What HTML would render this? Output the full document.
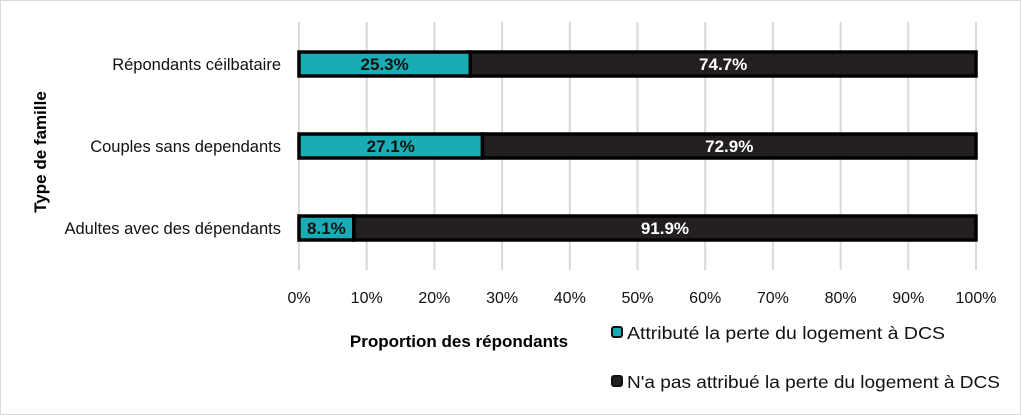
<!DOCTYPE html>
<html><head><meta charset="utf-8"><style>
body{margin:0;background:#fff;}
svg{display:block;font-family:"Liberation Sans",sans-serif;}
</style></head><body>
<svg id="chart" width="1021" height="415">
<rect x="0.5" y="0.5" width="1020" height="414" fill="#fff" stroke="#d9d9d9"/>
<g id="grid"></g><g id="bars"></g><g id="labels"></g>
<text x="46" y="152" transform="rotate(-90 46 152)" text-anchor="middle" font-size="17" font-weight="bold" fill="#000">Type de famille</text>
<text x="459" y="347" text-anchor="middle" font-size="17" font-weight="bold" fill="#000">Proportion des répondants</text>
<g>
<rect x="612" y="327" width="10" height="10" rx="2" fill="#1aacb5" stroke="#111" stroke-width="2"/>
<text x="627" y="339" font-size="17.5" fill="#111" textLength="318" lengthAdjust="spacingAndGlyphs">Attributé la perte du logement à DCS</text></g>
<g>
<rect x="612" y="376" width="10" height="10" rx="2" fill="#231f20" stroke="#111" stroke-width="2"/>
<text x="627" y="388" font-size="17.5" fill="#111" textLength="373" lengthAdjust="spacingAndGlyphs">N'a pas attribué la perte du logement à DCS</text></g>
</svg>
<script>
const categories=["Répondants céilbataire","Couples sans dependants","Adultes avec des dépendants"];
const attributed=[25.3,27.1,8.1];
const notAttributed=[74.7,72.9,91.9];
const ticks=[0,10,20,30,40,50,60,70,80,90,100];
const NS="http://www.w3.org/2000/svg";
const x=v=>299+v*6.77;
const yc=i=>64+i*82;
function mk(tag,a,p){const e=document.createElementNS(NS,tag);for(const k in a)e.setAttribute(k,a[k]);p.appendChild(e);return e;}
const g=document.getElementById('grid'),b=document.getElementById('bars'),l=document.getElementById('labels');
ticks.forEach(t=>{
 const ln=mk('line',{x1:x(t),x2:x(t),y1:22,y2:270,stroke:'#d9d9d9','stroke-width':2},g);
 
 
 const tx=mk('text',{x:x(t),y:303,'text-anchor':'middle','font-size':16,fill:'#111'},l);
 tx.textContent=t+'%';
 
 
});
categories.forEach((c,i)=>{
 const cy=yc(i);
 const ct=mk('text',{x:281,y:cy+6,'text-anchor':'end','font-size':16.5,fill:'#111'},l);
 ct.textContent=c;
 
 
 const r1=mk('rect',{x:x(0),y:cy-12,width:x(attributed[i])-x(0),height:24,fill:'#1aacb5',stroke:'#000','stroke-width':3.5},b);
 
 
 const r2=mk('rect',{x:x(attributed[i]),y:cy-12,width:x(attributed[i]+notAttributed[i])-x(attributed[i]),height:24,fill:'#231f20',stroke:'#000','stroke-width':3.5},b);
 
 
 const v1=mk('text',{x:(x(0)+x(attributed[i]))/2,y:cy+6,'text-anchor':'middle','font-size':17,'font-weight':'bold',fill:'#111'},l);
 v1.textContent=attributed[i].toFixed(1)+'%';
 
 
 const v2=mk('text',{x:(x(attributed[i])+x(100))/2,y:cy+6,'text-anchor':'middle','font-size':17,'font-weight':'bold',fill:'#fff'},l);
 v2.textContent=notAttributed[i].toFixed(1)+'%';
 
 
});
</script>
</body></html>
